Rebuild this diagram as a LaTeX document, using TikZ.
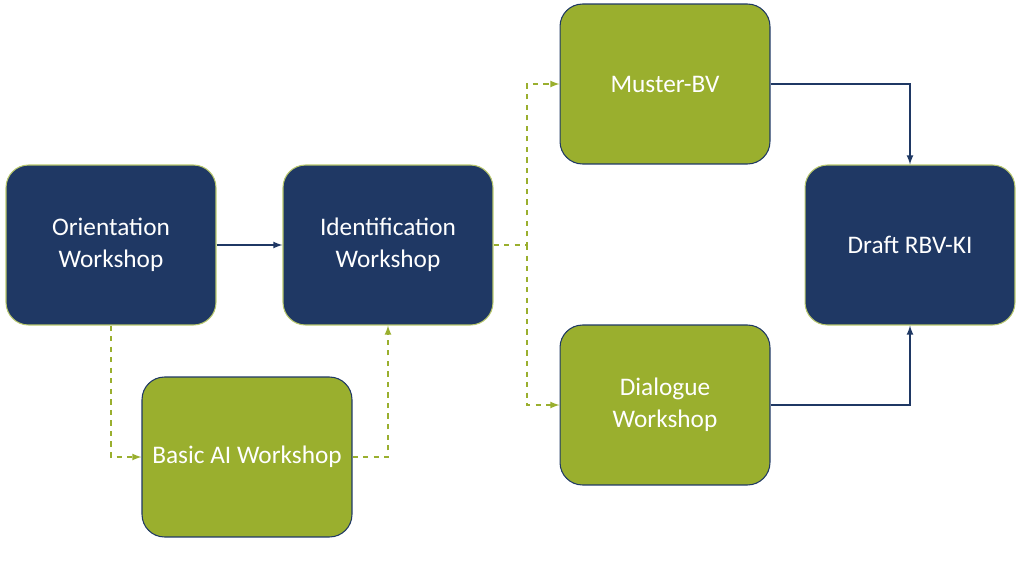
\documentclass[tikz,border=0pt]{standalone}
\usepackage{fontspec}
\setmainfont{Carlito}
\usetikzlibrary{positioning}
\definecolor{navy}{HTML}{1F3864}
\definecolor{leaf}{HTML}{9AAF2E}

\begin{document}
\begin{tikzpicture}[
    x=0.02cm, y=-0.02cm,
    stage/.style={rectangle, rounded corners=0.45cm, minimum width=4.2cm, minimum height=3.2cm,
      align=center, font=\Large, text=white, line width=0.6pt},
    core/.style={stage, fill=navy, draw=leaf!70!white},
    side/.style={stage, fill=leaf, draw=navy},
    flow/.style={-latex, thick, navy},
    hint/.style={-latex, thick, leaf, dashed}
  ]
    \useasboundingbox (0,0) rectangle (1024,572);

    \node[core] (orient) at (111,245) {Orientation\\Workshop};
    \node[core] (ident) at (388,245) {Identification\\Workshop};
    \node[side] (basic) at (247,457) {Basic AI Workshop};
    \node[side] (muster) at (665,84) {Muster-BV};
    \node[side] (dialog) at (665,405) {Dialogue\\Workshop};
    \node[core] (draft) at (910,245) {Draft RBV-KI};

    \coordinate (split) at (527,245);

    \draw[flow] (orient) -- (ident);
    \draw[hint] (orient.south) |- (basic.west);
    \draw[hint] (basic.east) -| (ident.south);
    \draw[hint] (ident.east) -- (split) |- (muster.west);
    \draw[hint] (split) |- (dialog.west);
    \draw[flow] (muster.east) -| (draft.north);
    \draw[flow] (dialog.east) -| (draft.south);
  \end{tikzpicture}
\end{document}
